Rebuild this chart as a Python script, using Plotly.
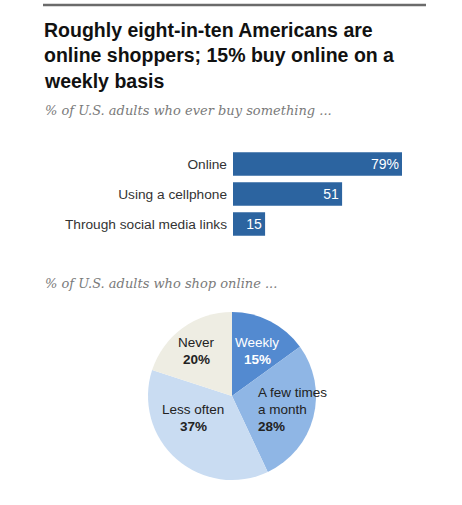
import plotly.graph_objects as go

# Data
bar_categories = ["Online", "Using a cellphone", "Through social media links"]
bar_values = [79, 51, 15]
bar_text = ["79%", "51", "15"]

pie_labels = ["Weekly", "A few times a month", "Less often", "Never"]
pie_values = [15, 28, 37, 20]
pie_colors = ["#538ad0", "#8fb6e5", "#c9dcf2", "#eeede3"]

W, H = 462, 505

def px(x):
    return x / W

def py(y):
    return 1 - y / H

fig = go.Figure()

fig.add_trace(go.Bar(
    x=bar_values, y=bar_categories, orientation="h",
    marker=dict(color="#2c64a0", line=dict(width=0)),
    text=bar_text, textposition="inside", insidetextanchor="end",
    textfont=dict(family="Liberation Sans", size=14, color="white"),
    xaxis="x", yaxis="y", hoverinfo="skip", cliponaxis=False,
))

fig.add_trace(go.Pie(
    values=pie_values, labels=pie_labels, sort=False, direction="clockwise",
    rotation=0, textinfo="none", hole=0,
    marker=dict(colors=pie_colors, line=dict(width=0)),
    domain=dict(x=[px(148), px(316)], y=[py(480), py(312)]),
    showlegend=False, hoverinfo="skip",
))

fig.update_layout(
    width=W, height=H, margin=dict(l=0, r=0, t=0, b=0),
    paper_bgcolor="white", plot_bgcolor="white", showlegend=False,
    bargap=0.22,
    xaxis=dict(domain=[px(233), px(402)], range=[0, 79], visible=False, fixedrange=True),
    yaxis=dict(domain=[py(239), py(149)], autorange="reversed", showgrid=False,
               zeroline=False, showline=False, ticks="", ticklabelstandoff=5,
               tickfont=dict(family="Liberation Sans", size=13.7, color="#333333")),
)

shapes = [dict(type="line", xref="paper", yref="paper", x0=px(43), x1=px(426),
               y0=py(5), y1=py(5), line=dict(color="#6b6b6b", width=2.5))]
fig.update_layout(shapes=shapes)

ann = []
title_lines = ["Roughly eight-in-ten Americans are",
               "online shoppers; 15% buy online on a",
               "weekly basis"]
for i, t in enumerate(title_lines):
    ann.append(dict(text="<b>" + t + "</b>", x=px(42), y=py(29.5 + 25.5 * i), xref="paper", yref="paper",
                    xanchor="left", yanchor="middle", showarrow=False,
                    font=dict(family="Liberation Sans", size=19.5, color="#111111")))

ann.append(dict(text="<i>% of U.S. adults who ever buy something ...</i>", x=px(43), y=py(111),
                xref="paper", yref="paper",
                xanchor="left", yanchor="middle", showarrow=False,
                font=dict(family="DejaVu Serif", size=13, color="#7a7a7a")))
ann.append(dict(text="<i>% of U.S. adults who shop online ...</i>", x=px(43), y=py(283),
                xref="paper", yref="paper",
                xanchor="left", yanchor="middle", showarrow=False,
                font=dict(family="DejaVu Serif", size=13, color="#7a7a7a")))

def pie_text(lines, x, y0, anchor, color="#222222"):
    for j, (t, bold) in enumerate(lines):
        txt = "<b>" + t + "</b>" if bold else t
        ann.append(dict(text=txt, x=px(x), y=py(y0 + 17 * j), xref="paper", yref="paper",
                        xanchor=anchor, yanchor="middle",
                        showarrow=False, font=dict(family="Liberation Sans", size=13.5, color=color)))

pie_text([("Weekly", False), ("15%", True)], 257, 342, "center", "white")
pie_text([("A few times", False), ("a month", False), ("28%", True)], 256, 392, "left")
pie_text([("Less often", False), ("37%", True)], 193, 409, "center")
pie_text([("Never", False), ("20%", True)], 196, 342, "center")

fig.update_layout(annotations=ann)

fig.write_html("out.html", config=dict(displayModeBar=False),
               post_script="document.body.style.margin='0';")
